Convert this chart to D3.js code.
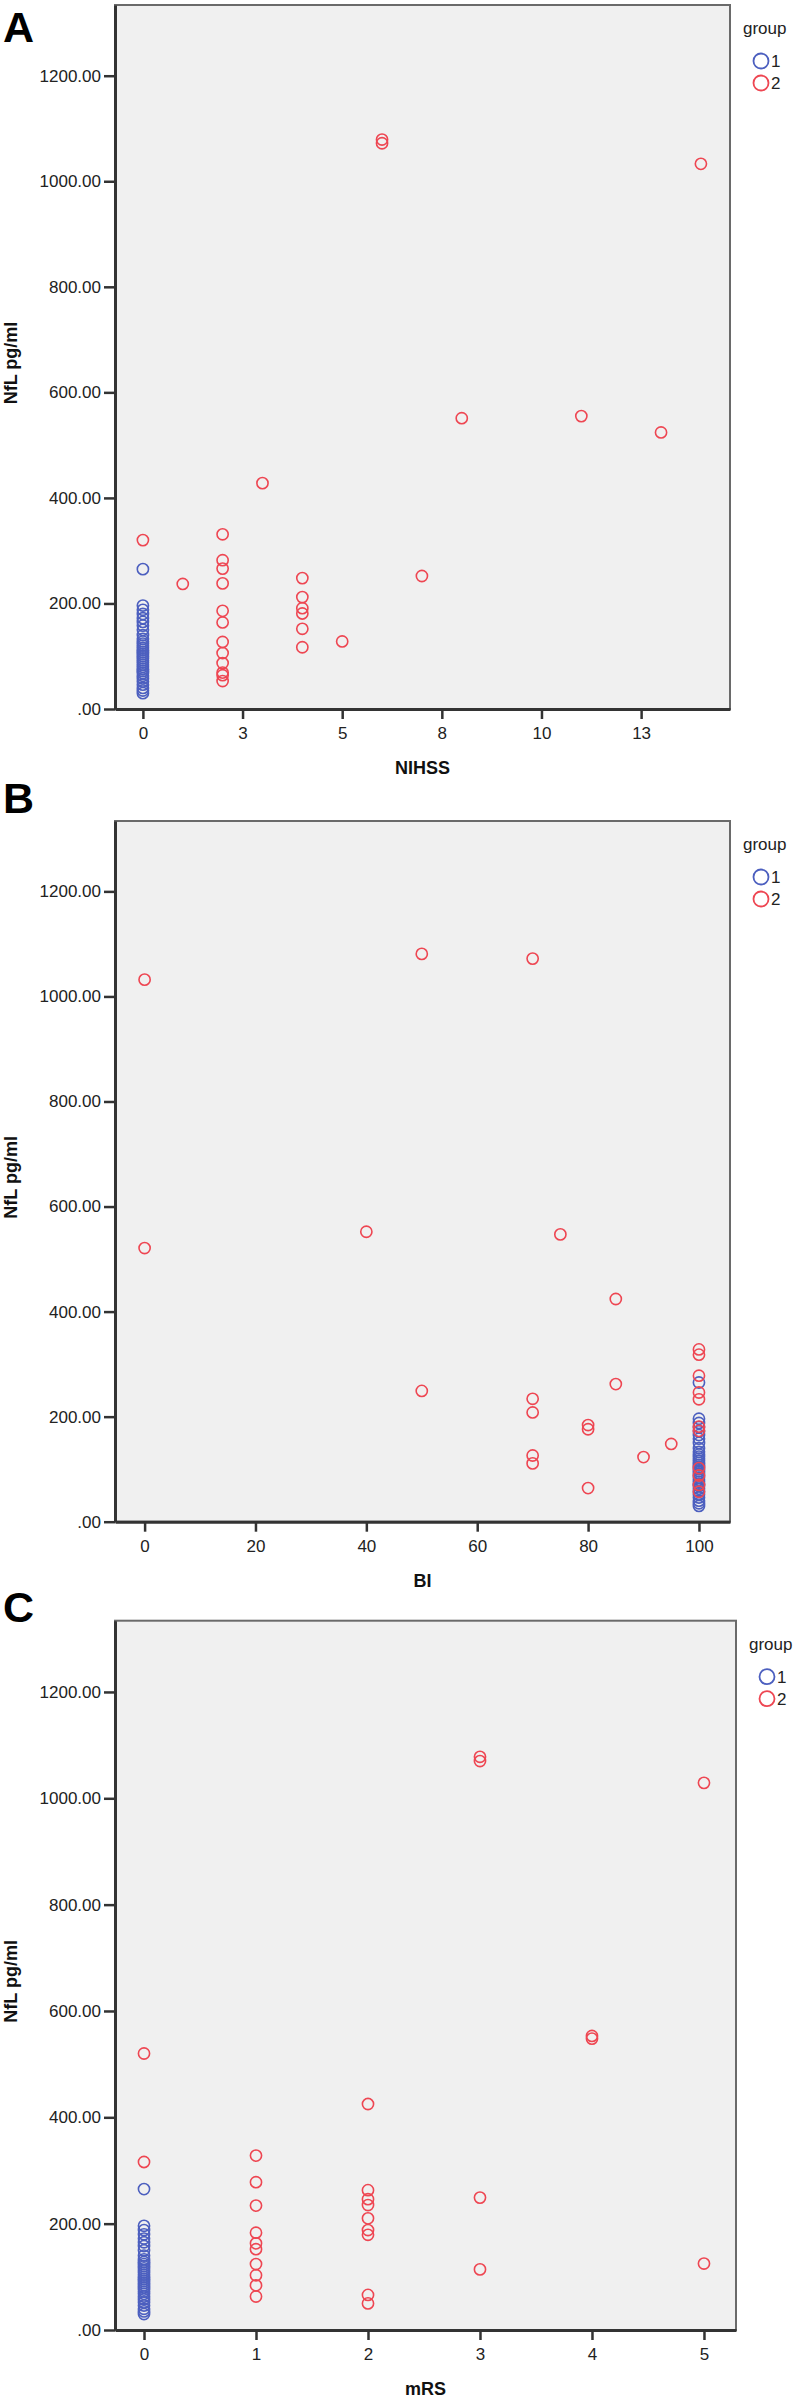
<!DOCTYPE html>
<html>
<head>
<meta charset="utf-8">
<script src="https://cdn.jsdelivr.net/npm/d3@7"></script>
<style>
  body { margin: 0; background: #fff; }
  svg text { font-family: "Liberation Sans", Arial, sans-serif; }
</style>
</head>
<body>
<svg id="chart" width="800" height="2400"></svg>
<script>
// NfL of group 1 (all sit at NIHSS 0, BI 100, mRS 0)
var group1Nfl = [265, 196, 188, 180, 172, 165, 158, 150, 140, 133, 128, 124, 120, 116, 112,
  108, 104, 100, 96, 92, 88, 84, 80, 76, 72, 68, 63, 58, 52, 46, 40, 35, 30];

// group 2: [score, NfL]
var nihssGroup2 = [[0,320],[1,237],[2,331],[2,282],[2,266],[2,238],[2,186],[2,164],[2,127],
  [2,106],[2,87],[2,69],[2,64],[2,53],[3,428],[4,248],[4,212],[4,191],[4,181],[4,152],[4,117],
  [5,128],[6,1072],[6,1079],[7,252],[8,551],[11,555],[13,524],[14,1033]];
var biGroup2 = [[0,1032],[0,521],[40,552],[50,1081],[50,249],[70,1072],[70,234],[70,208],
  [70,126],[70,111],[75,547],[80,184],[80,176],[80,64],[85,424],[85,262],[90,123],[95,148],
  [100,328],[100,318],[100,278],[100,246],[100,233],[100,181],[100,173],[100,102],[100,88],
  [100,70],[100,57]];
var mrsGroup2 = [[0,520],[0,316],[1,328],[1,278],[1,234],[1,183],[1,163],[1,152],[1,124],
  [1,103],[1,84],[1,63],[2,425],[2,263],[2,246],[2,235],[2,210],[2,188],[2,179],[2,66],[2,50],
  [3,1070],[3,1078],[3,249],[3,114],[4,548],[4,553],[5,1029],[5,125]];

var yTicks = [0, 200, 400, 600, 800, 1000, 1200];
var nihssTicks = [0, 2.5, 5, 7.5, 10, 12.5];
var nihssTickLabels = ["0", "3", "5", "8", "10", "13"];
var biTicks = [0, 20, 40, 60, 80, 100];
var mrsTicks = [0, 1, 2, 3, 4, 5];
var groups = ["1", "2"];
var groupColors = ["#4c5fbf", "#ee4652"];

var svg = d3.select("#chart");
var fmt = d3.format(".2f");

var panels = [
  {letter: "A", title: "NIHSS", g1x: 0, g2: nihssGroup2, ticks: nihssTicks,
   labels: nihssTickLabels, xdom: [-0.70, 14.73], top: 5, bottom: 709, right: 730, letterY: 42},
  {letter: "B", title: "BI", g1x: 100, g2: biGroup2, ticks: biTicks,
   labels: null, xdom: [-5.34, 105.6], top: 821, bottom: 1521.7, right: 730, letterY: 813},
  {letter: "C", title: "mRS", g1x: 0, g2: mrsGroup2, ticks: mrsTicks,
   labels: null, xdom: [-0.259, 5.286], top: 1620.7, bottom: 2330, right: 736, letterY: 1622}
];

panels.forEach(function(p) {
  var left = 115;
  var x = d3.scaleLinear().domain(p.xdom).range([left, p.right]);
  var y = d3.scaleLinear().domain([0, 1334]).range([p.bottom, p.top]);
  var g = svg.append("g");

  g.append("rect")
    .attr("x", left).attr("y", p.top)
    .attr("width", p.right - left).attr("height", p.bottom - p.top)
    .attr("fill", "#f0f0f0")
    .attr("stroke", "#6a6a6a")
    .attr("stroke-width", 2);

  var yAxis = g.append("g")
    .attr("transform", "translate(" + left + ",0)")
    .call(d3.axisLeft(y).tickValues(yTicks).tickSize(11).tickSizeOuter(0).tickPadding(3)
      .tickFormat(function(d) { return fmt(d).replace(/^0\./, "."); }));

  var xAxis = g.append("g")
    .attr("transform", "translate(0," + p.bottom + ")")
    .call(d3.axisBottom(x).tickValues(p.ticks).tickSize(10).tickSizeOuter(0).tickPadding(8)
      .tickFormat(function(d, i) { return p.labels ? p.labels[i] : d; }));

  [yAxis, xAxis].forEach(function(a) {
    a.select(".domain").attr("stroke", "#333").attr("stroke-width", 3);
    a.selectAll(".tick line").attr("stroke", "#333").attr("stroke-width", 2.5);
    a.selectAll(".tick text").attr("font-size", 17).attr("fill", "#222")
      .style("font-family", "'Liberation Sans', Arial, sans-serif");
  });

  // group 1 first, group 2 on top
  g.selectAll(".g1").data(group1Nfl).enter().append("circle")
    .attr("cx", x(p.g1x)).attr("cy", function(d) { return y(d); })
    .attr("r", 5.6).attr("fill", "none")
    .attr("stroke", groupColors[0]).attr("stroke-width", 1.6);

  g.selectAll(".g2").data(p.g2).enter().append("circle")
    .attr("cx", function(d) { return x(d[0]); }).attr("cy", function(d) { return y(d[1]); })
    .attr("r", 5.6).attr("fill", "none")
    .attr("stroke", groupColors[1]).attr("stroke-width", 1.6);

  // titles
  g.append("text")
    .attr("transform", "translate(17," + ((p.top + p.bottom) / 2 + 6) + ") rotate(-90)")
    .attr("text-anchor", "middle").attr("font-size", 18).attr("font-weight", "bold")
    .attr("fill", "#111").text("NfL pg/ml");

  g.append("text")
    .attr("x", (left + p.right) / 2).attr("y", p.bottom + 65)
    .attr("text-anchor", "middle").attr("font-size", 18).attr("font-weight", "bold")
    .attr("fill", "#111").text(p.title);

  g.append("text")
    .attr("x", 3).attr("y", p.letterY)
    .attr("font-size", 43).attr("font-weight", "bold")
    .attr("fill", "#000").text(p.letter);

  // legend
  var lg = g.append("g").attr("transform", "translate(" + p.right + "," + p.top + ")");
  lg.append("text").attr("x", 13).attr("y", 29)
    .attr("font-size", 17).attr("fill", "#222").text("group");
  groups.forEach(function(k, i) {
    lg.append("circle").attr("cx", 31).attr("cy", 56 + i * 22).attr("r", 7.5)
      .attr("fill", "none").attr("stroke", groupColors[i]).attr("stroke-width", 1.8);
    lg.append("text").attr("x", 41).attr("y", 62 + i * 22)
      .attr("font-size", 17).attr("fill", "#222").text(k);
  });
});
</script>
</body>
</html>
